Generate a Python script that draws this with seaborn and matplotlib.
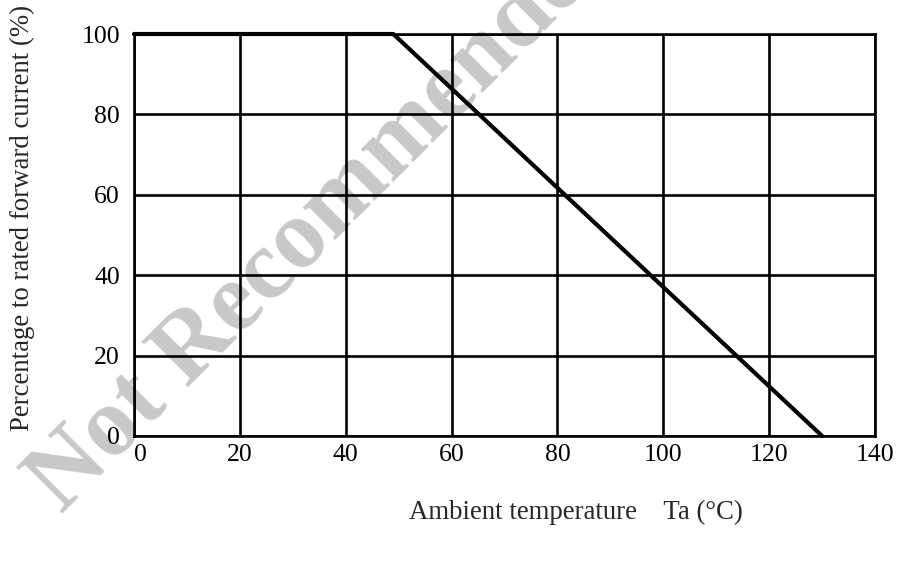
import seaborn as sns
import matplotlib.pyplot as plt
import pandas as pd

# Derating curve data
temp_c = [0, 49, 130]
current_pct = [100, 100, 0]
x_ticks = [0, 20, 40, 60, 80, 100, 120, 140]
y_ticks = [0, 20, 40, 60, 80, 100]

sns.set_style("white")
plt.rcParams['font.family'] = ['Liberation Serif', 'DejaVu Serif']

df = pd.DataFrame({'Ta': temp_c, 'If': current_pct})

fig = plt.figure(figsize=(8.97, 5.64), dpi=100)
ax = fig.add_axes([0.1494, 0.2270, 0.8261, 0.7127])

sns.lineplot(data=df, x='Ta', y='If', sort=False, color='black',
             linewidth=3.0, ax=ax, clip_on=False, zorder=5)

ax.set_xlim(0, 140)
ax.set_ylim(0, 100)
ax.set_xticks(x_ticks)
ax.set_yticks(y_ticks)
ax.set_xticklabels([str(v) for v in x_ticks])
ax.set_yticklabels([str(v) for v in y_ticks])
ax.xaxis.get_majorticklabels()[0].set_horizontalalignment('left')
ax.tick_params(axis='both', length=0, labelsize=18.5, colors='black')
ax.tick_params(axis='x', pad=6)
ax.tick_params(axis='y', pad=10)
ax.grid(True, color='black', linewidth=1.9)
for s in ax.spines.values():
  s.set_color('black')
  s.set_linewidth(1.9)
ax.set_xlabel('')
ax.set_ylabel('')

# Axis titles
fig.text(0.642, 0.092, 'Ambient temperature    Ta (\u00b0C)', fontsize=19.3,
         ha='center', va='center')
fig.text(0.025, 0.613, 'Percentage to rated forward current (%)',
         fontsize=19.3, rotation=90, ha='center', va='center')

# Watermark
ax.text(0.068, 0.088, 'Not Recommended', transform=fig.transFigure,
        fontsize=71, fontweight='bold', color='#c8c8c8', rotation=45,
        ha='left', va='baseline', rotation_mode='anchor',
        zorder=0.2, clip_on=False)

plt.savefig('out.png', dpi=100)
plt.close()
